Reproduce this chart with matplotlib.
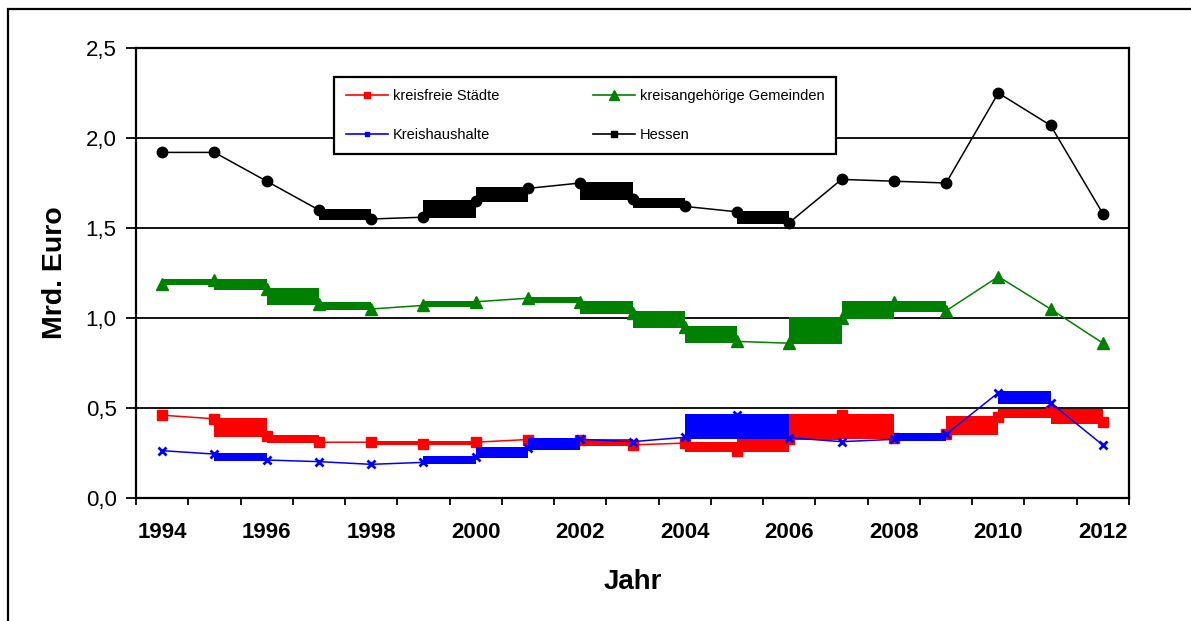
import numpy as np
import matplotlib.pyplot as plt
from matplotlib.lines import Line2D
from matplotlib.patches import Rectangle

plt.rcParams['font.family'] = ['Liberation Sans', 'DejaVu Sans']

years = list(range(1994, 2013))

# Mrd. Euro per year
staedte = [0.46, 0.44, 0.345, 0.31, 0.31, 0.30, 0.31, 0.325, 0.32, 0.295,
           0.305, 0.26, 0.33, 0.46, 0.335, 0.355, 0.45, 0.485, 0.42]
gemeinden = [1.19, 1.21, 1.16, 1.08, 1.05, 1.07, 1.09, 1.11, 1.09, 1.03,
             0.95, 0.87, 0.86, 1.00, 1.09, 1.04, 1.23, 1.05, 0.86]
kreise = [0.263, 0.244, 0.211, 0.202, 0.187, 0.198, 0.229, 0.276, 0.326, 0.313,
          0.337, 0.461, 0.335, 0.313, 0.326, 0.354, 0.585, 0.529, 0.294]
hessen = [1.92, 1.92, 1.76, 1.60, 1.55, 1.56, 1.65, 1.72, 1.75, 1.66,
          1.62, 1.59, 1.53, 1.77, 1.76, 1.75, 2.25, 2.07, 1.58]

# segments (start index) that are rendered as solid bands
staedte_bands = [1, 2, 4, 5, 8, 10, 11, 12, 13, 15, 16, 17]
gemeinden_bands = [0, 1, 2, 3, 5, 7, 8, 9, 10, 12, 13, 14]
kreise_bands = [1, 5, 6, 7, 10, 11, 14, 16]
hessen_bands = [3, 5, 6, 8, 9, 11]

x = np.arange(len(years))

fig = plt.figure(figsize=(11.91, 6.21), dpi=100)
ax = fig.add_axes([136 / 1191, 1 - 498 / 621, (1129 - 136) / 1191, 450 / 621])

# outer frame around the whole chart
fig.patches.append(Rectangle((8 / 1191, -0.2), 1.2, 1.2 - 9 / 621,
                             transform=fig.transFigure, fill=False,
                             edgecolor='black', linewidth=1.6, clip_on=False))


def draw_series(vals, bands, color, marker, ms, z, mew=1.0):
    vals = np.array(vals)
    for i in bands:
        lo = min(vals[i], vals[i + 1]) - 0.007
        hi = max(vals[i], vals[i + 1]) + 0.007
        ax.fill_between([x[i], x[i + 1]], [lo, lo], [hi, hi], color=color,
                        linewidth=0, zorder=z)
    ax.plot(x, vals, color=color, linewidth=1.1, marker=marker, markersize=ms,
            markeredgewidth=mew, markeredgecolor=color, markerfacecolor=color,
            zorder=z, clip_on=False)


draw_series(staedte, staedte_bands, '#ff0000', 's', 6.5, 3)
draw_series(gemeinden, gemeinden_bands, '#008000', '^', 9, 4)
draw_series(kreise, kreise_bands, '#0000ff', 'x', 6, 5, mew=2.0)
draw_series(hessen, hessen_bands, 'black', 'o', 7.5, 6)

ax.set_xlim(-0.5, len(years) - 0.5)
ax.set_ylim(0, 2.5)
ax.set_yticks(np.arange(0, 2.51, 0.5))
ax.set_yticklabels([f'{v:.1f}'.replace('.', ',') for v in np.arange(0, 2.51, 0.5)],
                   fontsize=16)
ax.grid(axis='y', color='black', linewidth=1.3, zorder=1)
ax.set_axisbelow(True)

ax.set_xticks(np.arange(-0.5, len(years), 1.0))
ax.set_xticklabels([])
ax.set_xticks(x[::2], minor=True)
ax.set_xticklabels([str(y) for y in years[::2]], minor=True,
                   fontsize=16, fontweight='bold')
ax.tick_params(axis='x', which='major', length=5, width=1.3, direction='out')
ax.tick_params(axis='x', which='minor', length=0, pad=17)
ax.tick_params(axis='y', length=7, width=1.3, pad=7)

for s in ax.spines.values():
    s.set_linewidth(1.6)
    s.set_color('black')

ax.set_xlabel('Jahr', fontsize=20, fontweight='bold', labelpad=19)
ax.set_ylabel('Mrd. Euro', fontsize=20.5, fontweight='bold', labelpad=13)

handles = [
    Line2D([], [], color='#ff0000', lw=1.2, marker='s', ms=5),
    Line2D([], [], color='#0000ff', lw=1.2, marker='s', ms=3.5),
    Line2D([], [], color='#008000', lw=1.2, marker='^', ms=7),
    Line2D([], [], color='black', lw=1.2, marker='s', ms=5),
]
labels = ['kreisfreie Städte', 'Kreishaushalte',
          'kreisangehörige Gemeinden', 'Hessen']
leg = ax.legend(handles, labels, ncol=2, loc='upper left',
                bbox_to_anchor=(334 / 1191, 1 - 77 / 621),
                bbox_transform=fig.transFigure, borderaxespad=0,
                fontsize=10.5, handlelength=2.9, handletextpad=0.35,
                columnspacing=6.4, labelspacing=1.75, borderpad=0.8,
                fancybox=False, framealpha=1, edgecolor='black')
leg.get_frame().set_linewidth(1.6)
leg.set_zorder(10)

fig.savefig('out.png', dpi=100)
